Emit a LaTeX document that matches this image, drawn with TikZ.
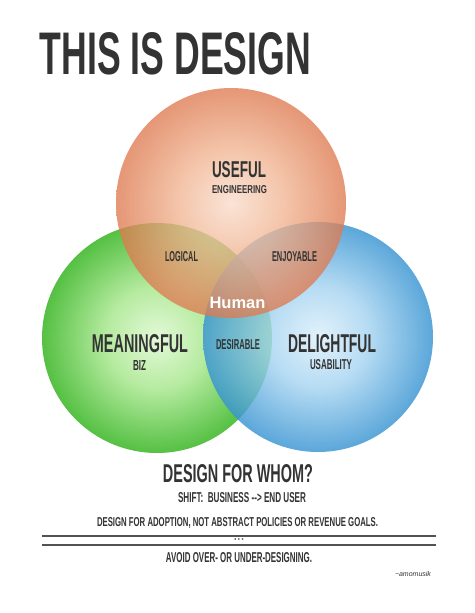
\documentclass[tikz,border=0pt]{standalone}
\usepackage{fontspec}
\setmainfont{Liberation Sans}
\usepackage{graphicx}

\definecolor{ink}{HTML}{333333}
\definecolor{orgin}{HTML}{F9DCCB}
\definecolor{orgmid}{HTML}{F2B795}
\definecolor{orgout}{HTML}{DE7A50}
\definecolor{grnin}{HTML}{E4F9D8}
\definecolor{grnmid}{HTML}{B6EBA0}
\definecolor{grnout}{HTML}{55C043}
\definecolor{bluin}{HTML}{DDF0FB}
\definecolor{blumid}{HTML}{A6D4F1}
\definecolor{bluout}{HTML}{3894D2}

\pgfdeclareradialshading{orgball}{\pgfpoint{0bp}{0bp}}{color(0bp)=(orgin); color(11bp)=(orgmid); color(25bp)=(orgout); color(50bp)=(orgout)}
\pgfdeclareradialshading{grnball}{\pgfpoint{0bp}{0bp}}{color(0bp)=(grnin); color(11bp)=(grnmid); color(25bp)=(grnout); color(50bp)=(grnout)}
\pgfdeclareradialshading{bluball}{\pgfpoint{0bp}{0bp}}{color(0bp)=(bluin); color(11bp)=(blumid); color(25bp)=(bluout); color(50bp)=(bluout)}

% squeezed capitals: width, height, text
\newcommand{\caps}[3]{\resizebox{#1pt}{#2pt}{\bfseries #3}}

\begin{document}
\begin{tikzpicture}[x=1pt,y=-1pt,
	word/.style={inner sep=0pt,text=ink},
	rule/.style={draw=ink!85,line width=1.8pt}]
	\useasboundingbox[fill=white] (0,0) rectangle (474,613);

	\node[word] (title) at (175.5,54) {\caps{271}{42}{THIS IS DESIGN}};

	% the three circles
	\shade[shading=grnball] (157,338) circle (115);
	\shade[shading=bluball,opacity=0.82] (318,337) circle (115);
	\shade[shading=orgball,opacity=0.78] (231,203) circle (115);

	\node[word] (useful) at (239,170) {\caps{54}{16}{USEFUL}};
	\node[word] (eng) at (239.5,190) {\caps{55}{8}{ENGINEERING}};
	\node[word] (logical) at (181.5,257) {\caps{33}{10}{LOGICAL}};
	\node[word] (enjoy) at (294.5,257) {\caps{45}{10}{ENJOYABLE}};
	\node[inner sep=0pt,text=white] (human) at (237.5,302.5)
		{\fontsize{16.5}{18}\selectfont\bfseries Human};
	\node[word] (mean) at (140,344) {\caps{96}{18}{MEANINGFUL}};
	\node[word] (biz) at (139.5,365) {\caps{13}{10}{BIZ}};
	\node[word] (desire) at (238,345) {\caps{44}{10}{DESIRABLE}};
	\node[word] (delight) at (332,344) {\caps{88}{18}{DELIGHTFUL}};
	\node[word] (usab) at (331,365) {\caps{42}{10}{USABILITY}};

	% below the circles
	\node[word] (whom) at (238,474) {\caps{150}{18}{DESIGN FOR WHOM?}};
	\node[word] (shift) at (242,498) {\caps{128}{10}{SHIFT:\ \ BUSINESS -{}-> END USER}};
	\node[word] (adopt) at (237.5,522.5) {\caps{281}{9}{DESIGN FOR ADOPTION, NOT ABSTRACT POLICIES OR REVENUE GOALS.}};
	\coordinate (r1a) at (42,536);
	\coordinate (r1b) at (436,536);
	\coordinate (r2a) at (42,545);
	\coordinate (r2b) at (436,545);
	\draw[rule] (r1a) -- (r1b);
	\draw[rule] (r2a) -- (r2b);
	\node[word] (dots) at (239,540.5) {\fontsize{6}{6}\selectfont\textbullet\hspace{1.5pt}\textbullet\hspace{1.5pt}\textbullet};
	\node[word] (avoid) at (239,558) {\caps{146}{10}{AVOID OVER- OR UNDER-DESIGNING.}};
	\node[word] (sign) at (413,573.5) {\fontsize{7}{8}\selectfont\itshape \textasciitilde amomusik};
\end{tikzpicture}
\end{document}
